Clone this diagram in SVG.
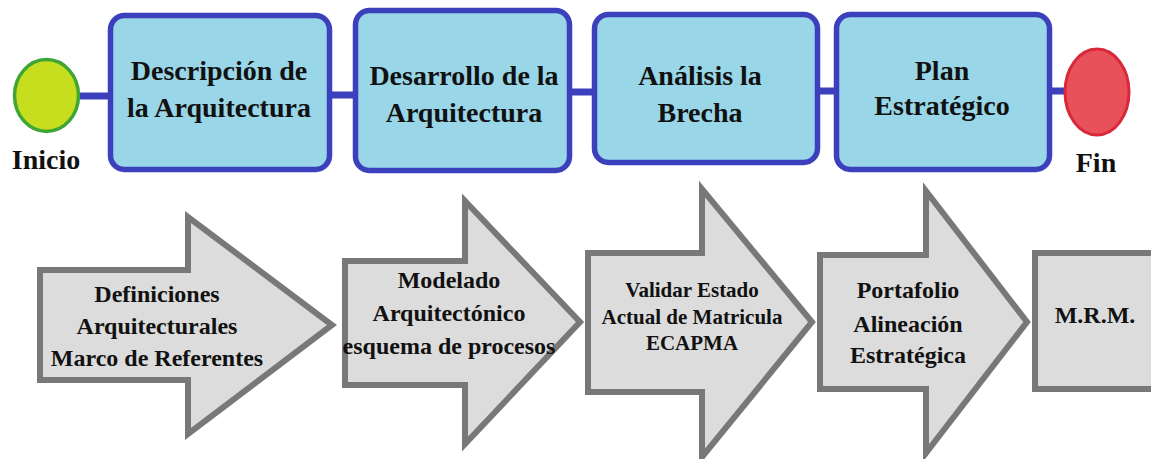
<svg xmlns="http://www.w3.org/2000/svg" width="1151" height="459" viewBox="0 0 1151 459">
<style>
.box{fill:#98d6e8;stroke:#3c40bd;stroke-width:5.5}
.conn{stroke:#3c40bd;stroke-width:7;fill:none}
.arr{fill:#dcdcdc;stroke:#787878;stroke-width:6;stroke-linejoin:miter}
.t{font-family:'Liberation Serif',Tinos,'Times New Roman',Times,'DejaVu Serif',serif;font-weight:bold;fill:#111;text-anchor:middle}
.tt{font-size:28px}
.at{font-size:24px}
.st{font-size:21px}
</style>
<rect width="1151" height="459" fill="#ffffff"/>
<g id="connectors">
<line class="conn" x1="78" y1="96" x2="111" y2="96"/>
<line class="conn" x1="330" y1="95" x2="356" y2="95"/>
<line class="conn" x1="570" y1="92" x2="595" y2="92"/>
<line class="conn" x1="818" y1="91" x2="837" y2="91"/>
<line class="conn" x1="1050" y1="91" x2="1066" y2="91"/>
</g>
<g id="inicio">
<ellipse cx="46.5" cy="95.5" rx="32" ry="36" fill="#c6de1e" stroke="#3fa535" stroke-width="3.5"/>
<text class="t tt" x="46" y="169">Inicio</text>
</g>
<g id="descripcion">
<rect class="box" x="110.5" y="15.5" width="219" height="154" rx="14"/>
<text class="t tt" x="219" y="80">Descripción de</text>
<text class="t tt" x="219" y="117">la Arquitectura</text>
</g>
<g id="desarrollo">
<rect class="box" x="355.5" y="10.5" width="214" height="160" rx="14"/>
<text class="t tt" x="464" y="85">Desarrollo de la</text>
<text class="t tt" x="464" y="122">Arquitectura</text>
</g>
<g id="analisis">
<rect class="box" x="594.5" y="14.5" width="223" height="148" rx="14"/>
<text class="t tt" x="700" y="85">Análisis la</text>
<text class="t tt" x="700" y="122">Brecha</text>
</g>
<g id="plan">
<rect class="box" x="836.5" y="14.5" width="213" height="155" rx="14"/>
<text class="t tt" x="942" y="80">Plan</text>
<text class="t tt" x="942" y="115">Estratégico</text>
</g>
<g id="fin">
<ellipse cx="1097" cy="92" rx="32" ry="43" fill="#e8505a" stroke="#d9283a" stroke-width="3"/>
<text class="t tt" x="1096" y="172">Fin</text>
</g>
<g id="definiciones">
<polygon class="arr" points="40,270 188,270 188,217 332,325 188,434 188,380 40,380"/>
<text class="t at" x="157" y="302">Definiciones</text>
<text class="t at" x="157" y="334">Arquitecturales</text>
<text class="t at" x="157" y="366">Marco de Referentes</text>
</g>
<g id="modelado">
<polygon class="arr" points="345,261 465,261 465,201 580,322 465,444 465,385 345,385"/>
<text class="t at" x="449" y="288">Modelado</text>
<text class="t at" x="449" y="321">Arquitectónico</text>
<text class="t at" x="449" y="354">esquema de procesos</text>
</g>
<g id="validar">
<polygon class="arr" points="588,253 702,253 702,189 812,322 702,457 702,392 588,392"/>
<text class="t st" x="692" y="297">Validar Estado</text>
<text class="t st" x="692" y="324">Actual de Matricula</text>
<text class="t st" x="692" y="350">ECAPMA</text>
</g>
<g id="portafolio">
<polygon class="arr" points="820,255 926,255 926,191 1027,322 926,453 926,389 820,389"/>
<text class="t at" x="908" y="298">Portafolio</text>
<text class="t at" x="908" y="332">Alineación</text>
<text class="t at" x="908" y="363">Estratégica</text>
</g>
<g id="mrm">
<rect class="arr" x="1035" y="253" width="130" height="136"/>
<text class="t at" x="1095" y="323">M.R.M.</text>
</g>
</svg>
